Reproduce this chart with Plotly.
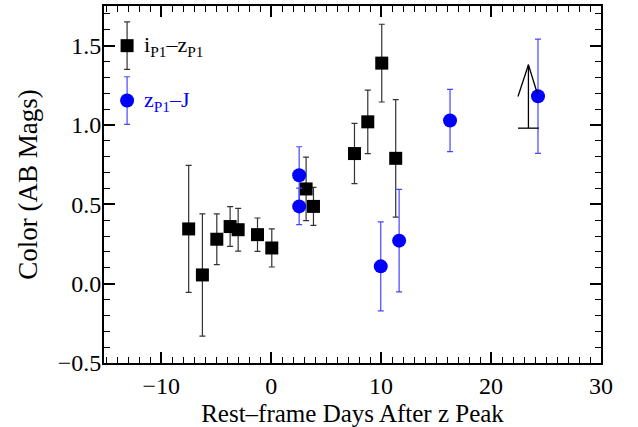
import plotly.graph_objects as go

# i_P1 - z_P1 colour (black squares)
iz_days = [-7.5, -6.25, -4.94, -3.73, -3.0, -1.24, 0.06, 3.18, 3.85, 7.58, 8.79, 10.06, 11.33]
iz_color = [0.345, 0.055, 0.28, 0.36, 0.34, 0.309, 0.225, 0.597, 0.487, 0.82, 1.02, 1.39, 0.79]
iz_err = [0.40, 0.385, 0.16, 0.125, 0.135, 0.105, 0.12, 0.20, 0.12, 0.19, 0.20, 0.245, 0.37]

# z_P1 - J colour (blue circles)
zj_days = [2.55, 2.55, 9.97, 11.64, 16.27, 24.27]
zj_color = [0.683, 0.487, 0.109, 0.271, 1.028, 1.181]
zj_err = [0.18, 0.115, 0.28, 0.323, 0.196, 0.36]

# i_P1 - z_P1 lower limit
lim_days = [23.4]
lim_color = [0.98]

# in-plot legend entries
leg_x = [-13.1, -13.1]
leg_y = [1.5, 1.154]
leg_err = [0.15, 0.15]
leg_text = ["i<sub>P1</sub>\u2013z<sub>P1</sub>", "z<sub>P1</sub>\u2013J"]

FONT = "Liberation Serif"
BLACK_BAR = "#333333"
BLUE = "#0000ff"
BLUE_BAR = "#4646ff"

fig = go.Figure()

fig.add_trace(go.Scatter(
    x=iz_days, y=iz_color, mode="markers",
    marker=dict(symbol="square", size=13, color="black"),
    error_y=dict(type="data", array=iz_err, color=BLACK_BAR, thickness=1.2, width=3),
    showlegend=False))

fig.add_trace(go.Scatter(
    x=zj_days, y=zj_color, mode="markers",
    marker=dict(symbol="circle", size=14, color=BLUE),
    error_y=dict(type="data", array=zj_err, color=BLUE_BAR, thickness=1.2, width=3),
    showlegend=False))

# lower-limit arrow built from the limit values
for xl, yl in zip(lim_days, lim_color):
    ax, ay = [], []
    ax += [xl - 0.95, xl + 0.95, None]
    ay += [yl, yl, None]
    ax += [xl, xl, None]
    ay += [yl, yl + 0.40, None]
    ax += [xl - 0.95, xl, xl + 0.8]
    ay += [yl + 0.20, yl + 0.40, yl + 0.22]
    fig.add_trace(go.Scatter(x=ax, y=ay, mode="lines",
                             line=dict(color="black", width=1.3),
                             showlegend=False, hoverinfo="skip"))

# legend markers
fig.add_trace(go.Scatter(
    x=[leg_x[0]], y=[leg_y[0]], mode="markers",
    marker=dict(symbol="square", size=13, color="black"),
    error_y=dict(type="data", array=[leg_err[0]], color=BLACK_BAR, thickness=1.2, width=3),
    showlegend=False))
fig.add_trace(go.Scatter(
    x=[leg_x[1]], y=[leg_y[1]], mode="markers",
    marker=dict(symbol="circle", size=14, color=BLUE),
    error_y=dict(type="data", array=[leg_err[1]], color=BLUE_BAR, thickness=1.2, width=3),
    showlegend=False))

for xx, yy, tt, cc in zip(leg_x, leg_y, leg_text, ["black", BLUE]):
    fig.add_annotation(x=xx + 1.35, y=yy, text=tt, showarrow=False,
                       xanchor="left", yanchor="middle",
                       font=dict(family=FONT, size=22, color=cc))

axis_common = dict(
    showline=True, linecolor="black", linewidth=2, mirror="allticks",
    ticks="inside", ticklen=11, tickwidth=1.5, tickcolor="black",
    showgrid=False, zeroline=False, automargin=False,
    tickfont=dict(family=FONT, size=24, color="black"),
)

fig.update_xaxes(range=[-15.2, 30], tickmode="linear", tick0=0, dtick=10,
                 minor=dict(ticks="inside", ticklen=6, dtick=1, tickcolor="black", tickwidth=1),
                 title=dict(text="Rest\u2013frame Days After z Peak", standoff=9,
                            font=dict(family=FONT, size=25, color="black")),
                 **axis_common)
fig.update_yaxes(range=[-0.5, 1.75], tickmode="linear", tick0=0, dtick=0.5,
                 tickformat=".1f", ticklabelstandoff=-4,
                 minor=dict(ticks="inside", ticklen=6, dtick=0.1, tickcolor="black", tickwidth=1),
                 title=dict(text="Color (AB Mags)", standoff=12,
                            font=dict(family=FONT, size=27, color="black")),
                 **axis_common)

fig.update_layout(
    width=638, height=427,
    margin=dict(l=104, r=37, t=6, b=64),
    plot_bgcolor="white", paper_bgcolor="white",
    font=dict(family=FONT, size=24, color="black"),
)

fig.write_html("out.html", config={"displayModeBar": False},
               post_script="document.body.style.margin='0';")
